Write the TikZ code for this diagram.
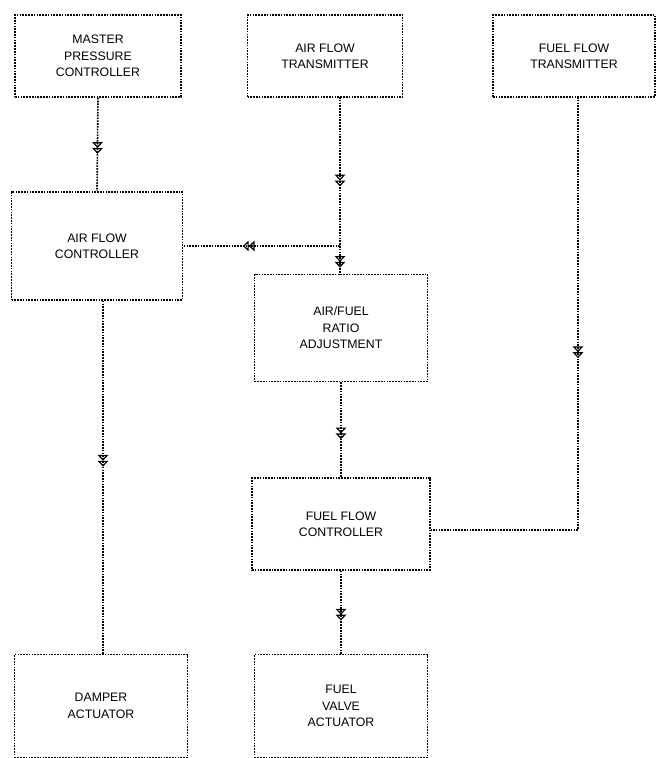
\documentclass[tikz,border=0pt]{standalone}
\usepackage{fontspec}
\setmainfont{Liberation Sans}
\usetikzlibrary{arrows.meta,decorations.markings}
\begin{document}
\begin{tikzpicture}[x=0.03cm,y=-0.03cm,
 box/.style={draw,densely dotted,line width=1.4pt,align=center,font=\fontsize{10.5}{14}\selectfont,inner sep=0pt},
 ln/.style={densely dotted,line width=1.4pt},
 mk/.style={postaction={decorate,decoration={markings,mark=at position #1 with {\arrow{Triangle[open,length=5pt,width=9pt,line width=1pt] Triangle[open,length=5pt,width=9pt,line width=1pt]}}}}}]
\useasboundingbox (0,0) rectangle (658,758);
\def\bx#1#2#3#4#5#6{\node[box,minimum width=#4*0.03cm,minimum height=#5*0.03cm] (#1) at (#2,#3) {#6};}
\bx{mpc}{98}{56}{166}{82}{MASTER\\PRESSURE\\CONTROLLER}
\bx{aft}{325}{56}{155}{82}{AIR FLOW\\TRANSMITTER}
\bx{fft}{574}{56}{162}{82}{FUEL FLOW\\TRANSMITTER}
\bx{afc}{97}{246}{171}{108}{AIR FLOW\\CONTROLLER}
\bx{afr}{341}{328}{173}{107}{AIR/FUEL\\RATIO\\ADJUSTMENT}
\bx{ffc}{341}{524}{178}{92}{FUEL FLOW\\CONTROLLER}
\bx{dam}{101}{706}{173}{103}{DAMPER\\ACTUATOR}
\bx{fva}{341}{706}{173}{103}{FUEL\\VALVE\\ACTUATOR}
\coordinate (a1) at (340,97);
\coordinate (j) at (340,246);
\coordinate (a2) at (340,275);
\coordinate (f1) at (578,97);
\coordinate (f2) at (578,530);
\draw[ln,mk=0.6] (mpc.south) -- (afc.north);
\draw[ln,mk=0.6] (a1) -- (j);
\draw[ln,mk=0.75] (j) -- (a2);
\draw[ln,mk=0.62] (j) -- (afc.east);
\draw[ln,mk=0.45] (f1) -- (f2) -- (ffc.east |- f2);
\draw[ln,mk=0.6] (afr.south) -- (ffc.north);
\draw[ln,mk=0.6] (ffc.south) -- (fva.north);
\draw[ln,mk=0.47] (afc.south -| 103,0) -- (dam.north -| 103,0);
\end{tikzpicture}
\end{document}
